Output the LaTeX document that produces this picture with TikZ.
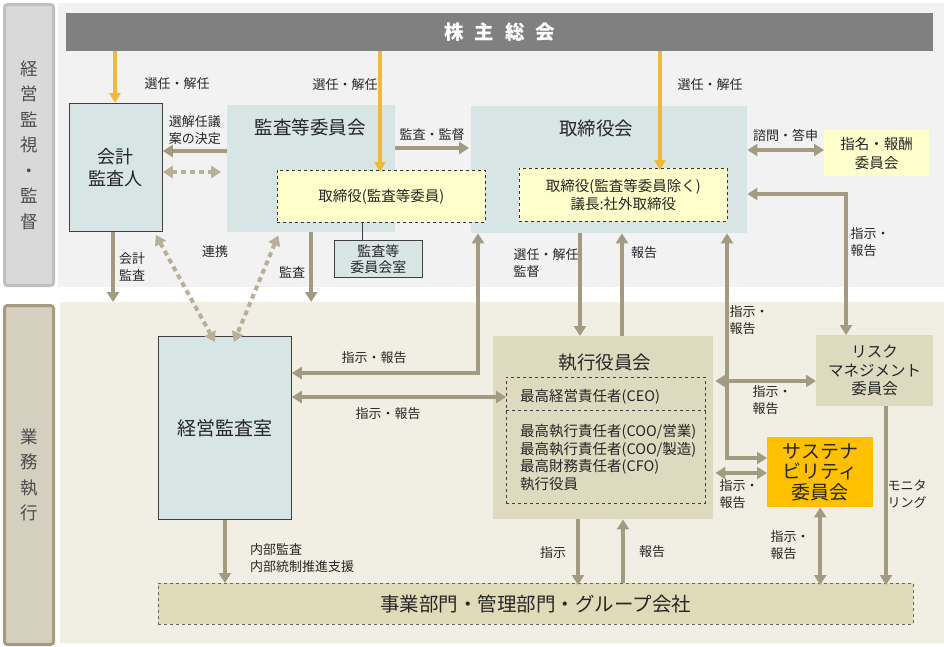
\documentclass[tikz,border=0pt]{standalone}
\usepackage{fontspec}
\setmainfont{Noto Sans CJK JP}
\usetikzlibrary{arrows.meta}
\definecolor{arrc}{RGB}{163,154,130}
\definecolor{dotc}{RGB}{184,175,152}
\definecolor{goldc}{RGB}{240,185,60}
\definecolor{paleblue}{RGB}{216,229,229}
\definecolor{paleyel}{RGB}{255,255,204}
\definecolor{khaki}{RGB}{222,218,192}
\definecolor{khakidk}{RGB}{223,219,185}
\definecolor{cream}{RGB}{241,239,227}
\definecolor{topbg}{RGB}{242,242,242}
\definecolor{sidegray}{RGB}{217,217,217}
\definecolor{sidegrayln}{RGB}{191,191,191}
\definecolor{sidetan}{RGB}{213,207,192}
\definecolor{sidetanln}{RGB}{166,155,128}
\definecolor{bargray}{RGB}{128,128,128}
\definecolor{orangec}{RGB}{255,192,0}
\begin{document}
\begin{tikzpicture}[x=1pt, y=-1pt,
 area/.style={rectangle, anchor=north west, inner sep=0pt, draw=none},
 side/.style={area, line width=3pt, rounded corners=3pt, align=center, text=black!70,
   font=\fontsize{17.5}{25.5}\selectfont},
 box/.style={area, align=center, text=black!85, font=\fontsize{18}{22}\selectfont},
 bluebox/.style={box, fill=paleblue, draw=black!75, line width=0.8pt},
 dbox/.style={box, fill=paleyel, draw=black!80, dashed, line width=0.6pt, font=\fontsize{14.5}{18}\selectfont},
 ttl/.style={font=\fontsize{18.5}{22}\selectfont, text=black!85, inner sep=0pt},
 txt/.style={font=\fontsize{14.5}{17.5}\selectfont, text=black!85, inner sep=0pt, anchor=west},
 lbl/.style={font=\fontsize{13}{17}\selectfont, text=black!85, inner sep=0pt, align=left},
 arr/.style={-{Triangle[length=10pt,width=12pt]}, line width=4pt, draw=arrc},
 darr/.style={arr, {Triangle[length=10pt,width=12pt]}-{Triangle[length=10pt,width=12pt]}},
 gold/.style={-{Triangle[length=10pt,width=11pt]}, line width=3.5pt, draw=goldc},
 dots/.style={{Triangle[length=10pt,width=12pt]}-{Triangle[length=10pt,width=12pt]}, line width=4pt, draw=dotc, dash pattern=on 5pt off 4pt},
]
\useasboundingbox (0,0) rectangle (944,646);

% backgrounds
\node[side, fill=sidegray, draw=sidegrayln, minimum width=49, minimum height=281] (sidetop) at (3,3) {経\\営\\監\\視\\・\\監\\督};
\node[side, fill=sidetan, draw=sidetanln, minimum width=49, minimum height=339] (sidebot) at (3,304) {業\\務\\執\\行};
\node[area, fill=topbg, minimum width=886, minimum height=284] (toparea) at (58,3) {};
\node[area, fill=cream, minimum width=884, minimum height=341] (botarea) at (60,302) {};

% upper part
\node[area, fill=bargray, minimum width=867, minimum height=38, text=white,
  font=\fontsize{19.5}{22}\selectfont\bfseries] (kabu) at (66,13) {株\hspace{0.55em}主\hspace{0.55em}総\hspace{0.55em}会};
\node[bluebox, minimum width=93, minimum height=128] (kaikei) at (69,103) {会計\\監査人};
\node[box, fill=paleblue, minimum width=168, minimum height=127] (kansa) at (227,105) {};
\node[ttl] (kansattl) at (310,127) {監査等委員会};
\node[box, fill=paleblue, minimum width=276, minimum height=127] (torikai) at (471,106) {};
\node[ttl] (torittl) at (596,128) {取締役会};
\node[dbox, minimum width=208, minimum height=52] (kansadir) at (277,170) {取締役(監査等委員)};
\node[dbox, minimum width=208, minimum height=53] (toridir) at (519,168) {取締役(監査等委員除く)\\議長:社外取締役};
\node[bluebox, minimum width=88, minimum height=37, font=\fontsize{14}{16}\selectfont] (kansaroom) at (334,240) {監査等\\委員会室};
\node[box, fill=paleyel, minimum width=105, minimum height=46, font=\fontsize{14.5}{19}\selectfont] (shimei) at (824,130) {指名・報酬\\委員会};

% lower part
\node[bluebox, minimum width=133, minimum height=183, font=\fontsize{19}{22}\selectfont] (keiei) at (158,336) {経営監査室};
\node[box, fill=khaki, minimum width=220, minimum height=183] (shikkou) at (493,336) {};
\node[ttl] (shikkoutl) at (605,363) {執行役員会};
\node[area, draw=black!75, dashed, line width=0.6pt, minimum width=199, minimum height=126] (shikkoudir) at (506,377) {};
\draw[black!75, dashed, line width=0.6pt] (shikkoudir.west |- 0,410) coordinate (divl) -- (shikkoudir.east |- 0,410) coordinate (divr);
\node[txt] (ceo) at (520,397) {最高経営責任者(CEO)};
\node[txt] (coo1) at (520,432) {最高執行責任者(COO/営業)};
\node[txt] (coo2) at (520,449.5) {最高執行責任者(COO/製造)};
\node[txt] (cfo) at (520,467) {最高財務責任者(CFO)};
\node[txt] (yakuin) at (520,484.5) {執行役員};
\node[box, fill=khaki, minimum width=117, minimum height=71, font=\fontsize{15.5}{18.5}\selectfont] (risk) at (816,335) {リスク\\マネジメント\\委員会};
\node[box, fill=orangec, minimum width=106, minimum height=70, font=\fontsize{19}{20.5}\selectfont] (sust) at (767,437) {サステナ\\ビリティ\\委員会};
\node[box, fill=khakidk, draw=black!60, dashed, line width=0.6pt, minimum width=755, minimum height=41,
  font=\fontsize{19.5}{22}\selectfont] (jigyou) at (158,583) {事業部門・管理部門・グループ会社};

% election arrows
\draw[gold] (kabu.south -| 115,0) -- (kaikei.north -| 115,0);
\draw[gold] (kabu.south -| 380,0) -- ([yshift=-2]kansadir.north -| 380,0);
\draw[gold] (kabu.south -| 660,0) -- ([yshift=-2]toridir.north -| 660,0);
\node[lbl] (sen1) at (177,84) {選任・解任};
\node[lbl] (sen2) at (345,85) {選任・解任};
\node[lbl] (sen3) at (710,85) {選任・解任};

% supervision side
\draw[arr] (kansa.west |- 0,151) -- (kaikei.east |- 0,151) node[lbl, midway, above=4pt] {選解任議\\案の決定};
\draw[dots] (kaikei.east |- 0,172) -- ([xshift=-6]kansa.west |- 0,172);
\draw[arr] (kansa.east |- 0,148) -- ([xshift=-2]torikai.west |- 0,148) node[lbl, midway, above=5pt] {監査・監督};
\draw[darr] (torikai.east |- 0,150) -- (shimei.west |- 0,150) node[lbl, midway, above=6pt] {諮問・答申};
\draw[line width=0.8pt, black!75] (kansadir.south -| 362,0) -- (kansaroom.north -| 362,0);
\draw[arr] (kaikei.south -| 113,0) -- (botarea.north -| 113,0) node[lbl, midway, right=4pt] {会計\\監査};
\draw[dots] ([xshift=-7,yshift=-3]kaikei.south east) -- ([xshift=-10,yshift=-6]keiei.north) coordinate (dotend1);
\draw[dots] ([xshift=-33,yshift=-3]kansa.south) -- ([xshift=9,yshift=-6]keiei.north) coordinate (dotend2);
\node[lbl] (renkei) at (215,252) {連携};
\draw[arr] (kansa.south) -- (botarea.north -| kansa.south);
\node[lbl] (kansalbl) at (292,272) {監査};

% board and execution
\draw[darr] (keiei.east |- 0,373) -| ([xshift=7]torikai.south west);
\node[lbl] (lbla) at (374,358) {指示・報告};
\draw[darr] (keiei.east |- 0,397) -- (shikkoudir.west |- 0,397) node[lbl, pos=0.45, below=9pt] {指示・報告};
\draw[arr] (torikai.south -| 580,0) -- (shikkou.north -| 580,0);
\node[lbl] (lblb) at (546,263) {選任・解任\\監督};
\draw[arr] (shikkou.north -| 622,0) -- (torikai.south -| 622,0);
\node[lbl] (hokoku1) at (644,253) {報告};
\draw[darr] (torikai.south -| 727,0) |- (sust.west |- 0,458);
\node[lbl] (lblc) at (749,320) {指示・\\報告};
\draw[darr] (risk.north -| 846,0) |- (torikai.east |- 0,194);
\node[lbl] (lbld) at (870,242) {指示・\\報告};
\draw[darr] ([xshift=2]shikkou.east |- 0,381) -- (risk.west |- 0,381);
\node[lbl] (lble) at (772,400) {指示・\\報告};
\draw[darr] ([xshift=2]shikkou.east |- 0,473) -- (sust.west |- 0,473);
\node[lbl] (lblf) at (739,494) {指示・\\報告};

% to business units
\draw[arr] (keiei.south) -- (jigyou.north -| keiei.south);
\node[lbl] (naibu) at (302,558) {内部監査\\内部統制推進支援};
\draw[arr] (shikkou.south -| 578,0) -- ([yshift=-2]jigyou.north -| 578,0) node[lbl, midway, left=10pt] {指示};
\draw[arr] (jigyou.north -| 623,0) -- (shikkou.south -| 623,0) node[lbl, midway, right=14pt] {報告};
\draw[darr] (sust.south) -- ([yshift=-2]jigyou.north -| sust.south);
\node[lbl] (lblg) at (790,545) {指示・\\報告};
\draw[arr] (risk.south -| 886,0) -- ([yshift=-2]jigyou.north -| 886,0);
\node[lbl] (monitor) at (907,494) {モニタ\\リング};
\end{tikzpicture}
\end{document}
